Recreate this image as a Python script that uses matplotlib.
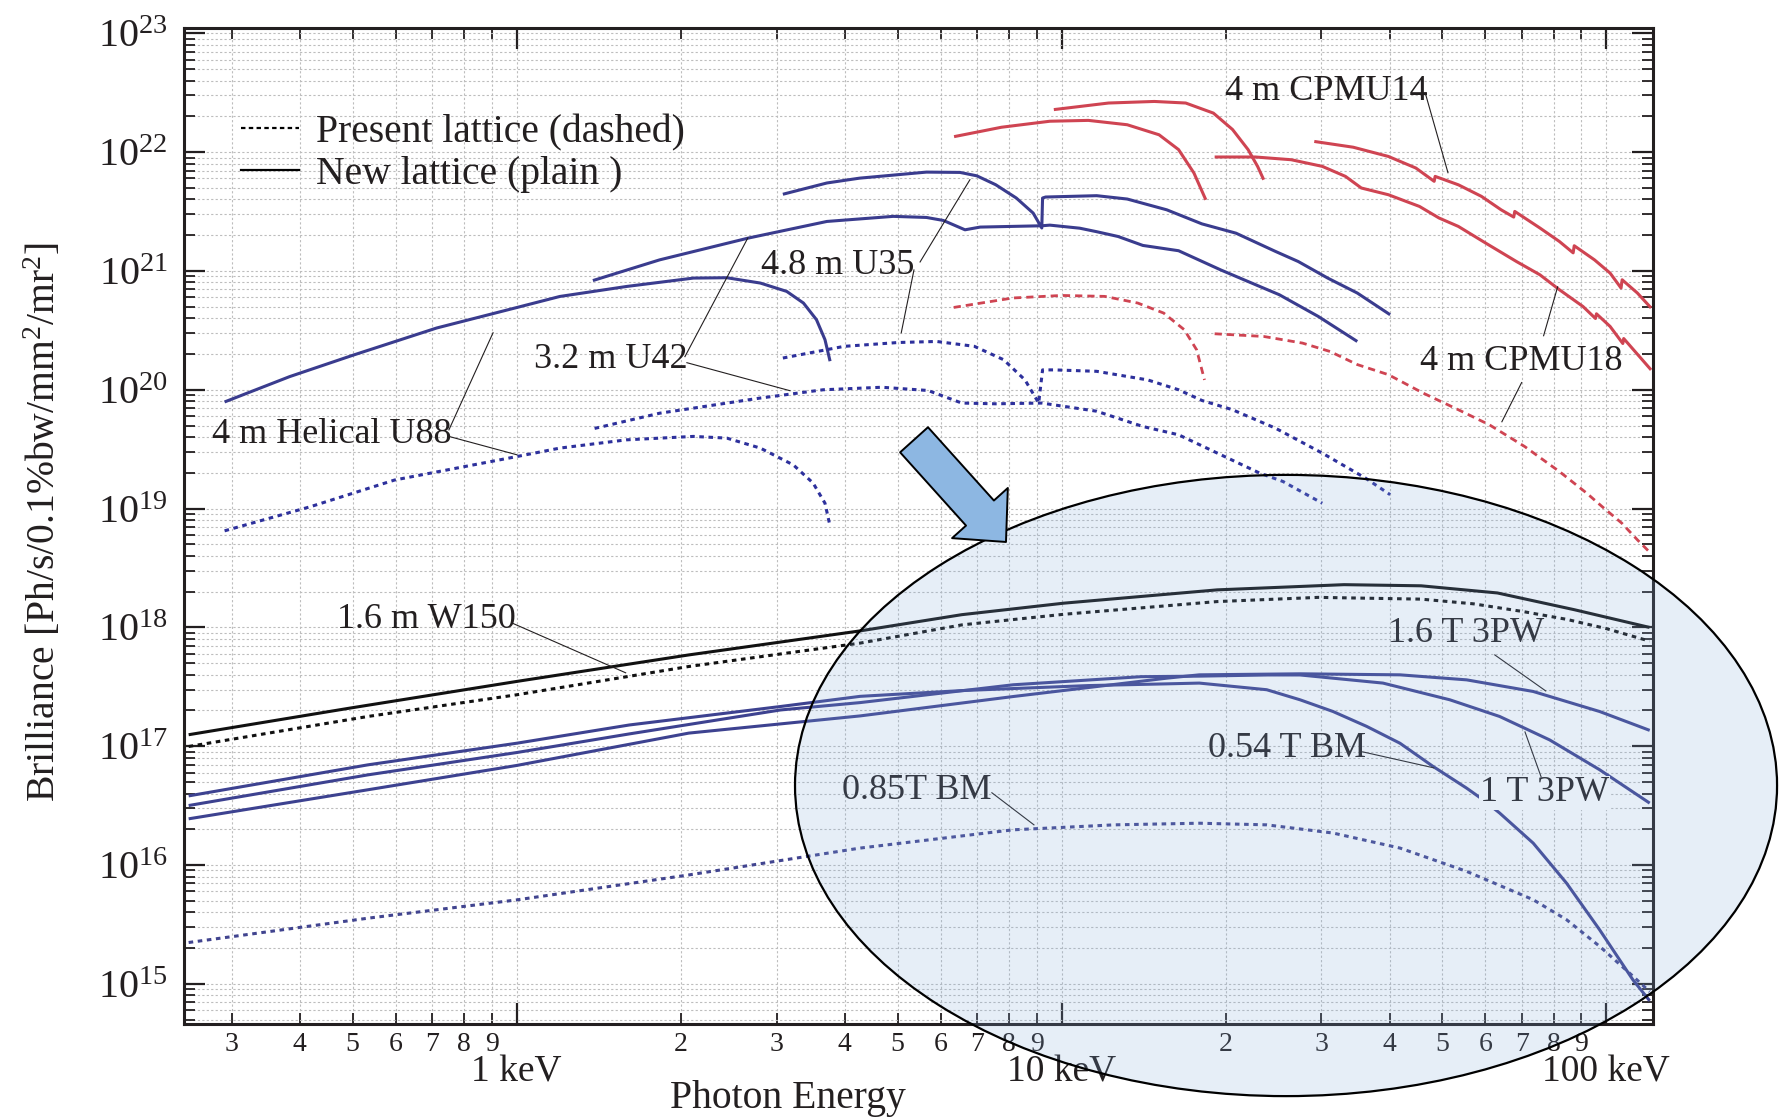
import matplotlib
matplotlib.use("Agg")
import math
import matplotlib.pyplot as plt
from matplotlib.patches import Ellipse
from matplotlib.lines import Line2D
from matplotlib.ticker import FixedLocator, FuncFormatter

plt.rcParams['font.family'] = ['Liberation Serif', 'DejaVu Serif']
plt.rcParams['mathtext.fontset'] = 'custom'
plt.rcParams['mathtext.rm'] = 'Liberation Serif'
plt.rcParams['mathtext.it'] = 'Liberation Serif:italic'
plt.rcParams['mathtext.bf'] = 'Liberation Serif:bold'

# photon energy [keV] and brilliance [Ph/s/0.1%bw/mm2/mr2]
u88_new_e = [0.291, 0.383, 0.500, 0.713, 1.00, 1.20, 1.59, 2.11, 2.43, 2.80, 3.13, 3.36, 3.55, 3.68, 3.76]
u88_new_b = [7.9e19, 1.29e20, 1.95e20, 3.31e20, 4.92e20, 6.10e20, 7.40e20, 8.71e20, 8.77e20,
             7.91e20, 6.73e20, 5.37e20, 3.89e20, 2.64e20, 1.74e20]
u88_old_e = [0.291, 0.419, 0.597, 1.00, 1.20, 1.59, 2.11, 2.43, 2.80, 3.22, 3.50, 3.68, 3.76]
u88_old_b = [6.5e18, 1.04e19, 1.74e19, 2.74e19, 3.23e19, 3.79e19, 4.05e19, 3.92e19, 3.23e19,
             2.33e19, 1.64e19, 1.11e19, 7.1e18]

u42_new_e = [1.38, 1.83, 2.66, 3.71, 4.91, 5.65, 6.07, 6.65, 7.09, 9.20, 9.52, 10.8, 11.6, 12.7,
             14.1, 16.4, 19.6, 23.1, 25.1, 29.6, 34.9]
u42_new_b = [8.3e20, 1.24e21, 1.89e21, 2.61e21, 2.88e21, 2.82e21, 2.66e21, 2.22e21, 2.34e21,
             2.40e21, 2.43e21, 2.29e21, 2.14e21, 1.95e21, 1.64e21, 1.48e21, 1.02e21, 7.41e20,
             6.31e20, 4.14e20, 2.55e20]
u42_old_e = [1.39, 1.83, 2.79, 3.65, 4.68, 5.69, 6.56, 7.57, 9.20, 11.6, 14.1, 16.4, 19.6, 23.1,
             25.5, 30.1]
u42_old_b = [4.73e19, 6.35e19, 8.5e19, 1.00e20, 1.05e20, 9.86e19, 7.73e19, 7.62e19, 7.73e19,
             6.6e19, 4.91e19, 4.18e19, 2.84e19, 1.99e19, 1.69e19, 1.11e19]

u35_new_e = [3.08, 3.71, 4.26, 5.65, 6.51, 6.99, 7.57, 8.26, 8.87, 9.20, 9.23, 9.35, 11.6, 13.2,
             15.6, 18.1, 20.9, 24.7, 27.2, 30.8, 34.9, 40.1]
u35_new_b = [4.42e21, 5.50e21, 6.04e21, 6.79e21, 6.75e21, 6.32e21, 5.32e21, 4.11e21, 3.07e21,
             2.30e21, 4.11e21, 4.19e21, 4.30e21, 4.03e21, 3.27e21, 2.49e21, 2.08e21, 1.46e21,
             1.20e21, 8.71e20, 6.52e20, 4.28e20]
u35_old_e = [3.08, 3.99, 5.02, 5.90, 6.92, 7.83, 8.57, 9.08, 9.23, 9.70, 11.6, 14.4, 16.4, 18.1,
             20.6, 24.7, 30.1, 36.1, 40.1]
u35_old_b = [1.85e20, 2.32e20, 2.50e20, 2.55e20, 2.32e20, 1.79e20, 1.21e20, 7.73e19, 1.47e20,
             1.47e20, 1.43e20, 1.21e20, 1.00e20, 8.13e19, 6.79e19, 4.75e19, 2.93e19, 1.81e19,
             1.31e19]

cpmu_h1_e = [9.68, 12.2, 14.8, 16.9, 19.0, 20.6, 22.0, 22.9, 23.5]
cpmu_h1_b = [2.28e22, 2.59e22, 2.67e22, 2.59e22, 2.13e22, 1.55e22, 1.05e22, 7.59e21, 5.86e21]
cpmu_h2_e = [6.35, 7.76, 9.52, 11.2, 13.2, 15.1, 16.4, 17.5, 18.4]
cpmu_h2_b = [1.35e22, 1.62e22, 1.82e22, 1.85e22, 1.70e22, 1.40e22, 1.05e22, 6.67e21, 3.97e21]
cpmu18_e = [19.1, 22.7, 26.4, 30.1, 33.2, 35.5, 39.8, 45.4, 49.3, 53.5, 60.0, 68.4, 75.5, 82.0,
            90.6, 95.5, 95.9, 101.6, 107.2, 107.6, 120.8]
cpmu18_b = [9.10e21, 9.10e21, 8.63e21, 7.59e21, 6.25e21, 4.99e21, 4.38e21, 3.49e21, 2.79e21,
            2.37e21, 1.72e21, 1.20e21, 9.29e20, 6.95e20, 5.02e20, 3.98e20, 4.36e20, 3.41e20,
            2.45e20, 2.70e20, 1.47e20]
cpmu14_e = [29.1, 34.3, 39.8, 44.7, 48.3, 48.5, 53.5, 59.0, 64.1, 67.6, 67.9, 75.5, 82.0, 86.9,
            87.3, 95.1, 101.6, 106.4, 106.9, 114.0, 120.8]
cpmu14_b = [1.23e22, 1.10e22, 9.20e21, 7.35e21, 5.68e21, 6.25e21, 5.31e21, 4.24e21, 3.27e21,
            2.84e21, 3.17e21, 2.30e21, 1.77e21, 1.42e21, 1.63e21, 1.24e21, 9.59e20, 7.18e20,
            8.43e20, 6.52e20, 4.88e20]
cpmu_old1_e = [6.34, 8.13, 10.0, 12.0, 13.8, 15.4, 16.8, 17.7, 18.3]
cpmu_old1_b = [4.93e20, 5.92e20, 6.22e20, 6.11e20, 5.37e20, 4.42e20, 3.20e20, 2.17e20, 1.21e20]
cpmu_old2_e = [19.1, 23.5, 27.7, 31.1, 34.9, 39.8, 46.1, 53.5, 61.0, 70.8, 82.0, 92.0, 98.2,
               106.7, 114.0, 119.7]
cpmu_old2_b = [2.96e20, 2.81e20, 2.47e20, 2.10e20, 1.63e20, 1.34e20, 9.38e19, 6.79e19, 5.07e19,
               3.33e19, 2.05e19, 1.35e19, 1.04e19, 7.55e18, 5.46e18, 4.36e18]

w150_new_e = [0.250, 0.493, 1.00, 2.07, 4.27, 6.56, 10.1, 19.3, 33.0, 45.7, 63.1, 87.3, 120]
w150_new_b = [1.25e17, 2.09e17, 3.51e17, 5.87e17, 9.35e17, 1.28e18, 1.60e18, 2.07e18, 2.29e18,
              2.24e18, 1.95e18, 1.41e18, 1.0e18]
w150_old_e = [0.250, 0.533, 1.00, 2.07, 4.27, 6.56, 10.1, 19.3, 29.6, 45.7, 57.0, 70.3, 84.5, 100, 120]
w150_old_b = [9.95e16, 1.78e17, 2.71e17, 4.69e17, 7.38e17, 1.05e18, 1.29e18, 1.65e18, 1.79e18,
              1.73e18, 1.58e18, 1.36e18, 1.17e18, 9.77e17, 7.67e17]

bm054_e = [0.250, 0.533, 1.00, 1.61, 3.05, 4.27, 6.56, 11.2, 15.6, 17.9, 23.8, 27.4, 31.5, 36.3,
           41.8, 48.1, 55.4, 59.4, 63.7, 73.4, 84.5, 97.2, 111.9, 120.1]
bm054_b = [3.82e16, 6.97e16, 1.06e17, 1.51e17, 2.16e17, 2.63e17, 2.94e17, 3.24e17, 3.35e17,
           3.40e17, 2.99e17, 2.46e17, 1.96e17, 1.47e17, 1.06e17, 6.75e16, 4.44e16, 3.54e16,
           2.74e16, 1.53e16, 7.05e15, 2.85e15, 1.08e15, 7.2e14]
pw1t_e = [0.250, 0.533, 1.00, 1.61, 3.05, 4.27, 8.15, 14.0, 17.9, 23.9, 27.4, 38.9, 51.6, 63.7,
          78.7, 97.2, 120.1]
pw1t_b = [3.17e16, 5.74e16, 8.85e16, 1.27e17, 2.02e17, 2.33e17, 3.29e17, 3.85e17, 3.89e17,
          3.98e17, 3.98e17, 3.40e17, 2.46e17, 1.78e17, 1.13e17, 6.34e16, 3.32e16]
pw16t_e = [0.250, 0.533, 1.00, 2.07, 4.27, 8.15, 15.6, 17.9, 27.4, 41.8, 55.4, 73.4, 97.2, 120.1]
pw16t_b = [2.45e16, 4.30e16, 6.89e16, 1.29e17, 1.80e17, 2.62e17, 3.74e17, 3.99e17, 4.07e17,
           3.99e17, 3.62e17, 2.89e17, 1.96e17, 1.36e17]
bm085_e = [0.250, 0.533, 1.00, 2.07, 4.27, 8.15, 12.5, 17.9, 23.8, 31.5, 41.8, 55.4, 73.4, 84.5,
           97.2, 111.9, 120.1]
bm085_b = [2.23e15, 3.57e15, 5.09e15, 8.26e15, 1.39e16, 1.98e16, 2.18e16, 2.25e16, 2.18e16,
           1.86e16, 1.39e16, 8.85e15, 5.11e15, 3.47e15, 2.07e15, 1.16e15, 8.6e14]

# label text, text position (keV, brilliance), leader lines [(e0, b0, e1, b1), ...]
labels = [
    ("4 m Helical U88", 0.457, 4.18e19, [(0.751, 4.60e19, 0.905, 3.02e20), (0.751, 4.05e19, 1.0, 2.84e19)]),
    ("3.2 m U42", 1.489, 1.79e20, [(2.036, 1.90e20, 2.657, 1.90e21), (2.053, 1.69e20, 3.174, 9.82e19)]),
    ("4.8 m U35", 3.888, 1.11e21, [(5.50, 1.19e21, 6.79, 5.86e21), (5.36, 1.02e21, 5.08, 3.02e20)]),
    ("4 m CPMU14", 30.6, 3.22e22, [(46.5, 3.16e22, 51.2, 6.71e21)]),
    ("4 m CPMU18", 69.9, 1.72e20, [(76.7, 2.85e20, 81.4, 7.36e20), (69.9, 1.15e20, 64.3, 5.38e19)]),
    ("1.6 m W150", 0.684, 1.16e18, [(0.980, 1.09e18, 1.585, 4.15e17)]),
    ("1.6 T 3PW", 55.4, 8.83e17, [(62.4, 5.87e17, 77.4, 2.92e17)]),
    ("0.54 T BM", 25.9, 9.51e16, [(35.7, 8.97e16, 48.2, 6.58e16)]),
    ("1 T 3PW", 77.1, 4.06e16, [(75.9, 5.52e16, 70.9, 1.32e17)]),
    ("0.85T BM", 5.43, 4.22e16, [(7.45, 4.06e16, 8.90, 2.18e16)]),
]

x_major = [1, 10, 100]
x_major_labels = ["1 keV", "10 keV", "100 keV"]
y_major = [1e15, 1e16, 1e17, 1e18, 1e19, 1e20, 1e21, 1e22, 1e23]

blue = '#3a3c8e'
blue_d = '#2d309c'
red = '#cf4452'
ink = '#231f20'

fig = plt.figure(figsize=(17.89, 11.17), dpi=100)
ax = fig.add_axes([0.1031, 0.0833, 0.8209, 0.8917])
ax.set_xscale('log')
ax.set_yscale('log')
ax.set_xlim(0.2456, 121.8)
ax.set_ylim(4.6e14, 1.11e23)

solid = dict(lw=2.2, solid_capstyle='butt', solid_joinstyle='round', zorder=3)
dash = dict(lw=2.2, linestyle=(0, (1.5, 1.5)), zorder=3)
rdash = dict(lw=2.0, linestyle=(0, (2.6, 1.8)), zorder=3)

ax.plot(u88_new_e, u88_new_b, color=blue, **solid)
ax.plot(u88_old_e, u88_old_b, color=blue_d, **dash)
ax.plot(u42_new_e, u42_new_b, color=blue, **solid)
ax.plot(u42_old_e, u42_old_b, color=blue_d, **dash)
ax.plot(u35_new_e, u35_new_b, color=blue, **solid)
ax.plot(u35_old_e, u35_old_b, color=blue_d, **dash)

ax.plot(cpmu_h1_e, cpmu_h1_b, color=red, **solid)
ax.plot(cpmu_h2_e, cpmu_h2_b, color=red, **solid)
ax.plot(cpmu18_e, cpmu18_b, color=red, **solid)
ax.plot(cpmu14_e, cpmu14_b, color=red, **solid)
ax.plot(cpmu_old1_e, cpmu_old1_b, color=red, **rdash)
ax.plot(cpmu_old2_e, cpmu_old2_b, color=red, **rdash)

ax.plot(w150_new_e, w150_new_b, color='#111111', **solid)
ax.plot(w150_old_e, w150_old_b, color='#111111', **dash)
ax.plot(bm054_e, bm054_b, color='#3d4290', **solid)
ax.plot(pw1t_e, pw1t_b, color='#3d4290', **solid)
ax.plot(pw16t_e, pw16t_b, color='#3d4290', **solid)
ax.plot(bm085_e, bm085_b, color='#41448f', **dash)

for txt, tx, ty, leaders in labels:
    t = ax.text(tx, ty, txt, fontsize=26, color=ink, ha='center', va='center', zorder=4)
    if txt == "1 T 3PW":
        # the label interrupts the 0.54 T BM curve
        t.set_bbox(dict(facecolor='white', edgecolor='none', pad=0.5))
    for e0, b0, e1, b1 in leaders:
        ax.plot([e0, e1], [b0, b1], color=ink, lw=0.8, zorder=4)

# legend
handles = [Line2D([], [], color='black', lw=1.6, linestyle=(0, (2, 1.5))),
           Line2D([], [], color='black', lw=1.6)]
ax.legend(handles, ["Present lattice (dashed)", "New lattice (plain )"],
          loc='upper left', bbox_to_anchor=(0.0385, 0.9135), frameon=False, fontsize=28.5,
          borderpad=0, borderaxespad=0, handlelength=1.47, handletextpad=0.43,
          labelspacing=0.12, labelcolor=ink)

# axes, ticks, grid
ax.xaxis.set_major_locator(FixedLocator(x_major))
ax.xaxis.set_major_formatter(FuncFormatter(lambda v, p: x_major_labels[x_major.index(round(v))]))
x_minor = [m * 10.0 ** k for k in (-1, 0, 1) for m in range(2, 10)]
ax.xaxis.set_minor_locator(FixedLocator(x_minor))
ax.xaxis.set_minor_formatter(FuncFormatter(lambda v, p: "%d" % round(v / 10 ** math.floor(math.log10(v) + 1e-9))))
ax.yaxis.set_major_locator(FixedLocator(y_major))
ax.yaxis.set_major_formatter(FuncFormatter(lambda v, p: r"$10^{%d}$" % round(math.log10(v))))
y_minor = [m * 10.0 ** k for k in range(14, 23) for m in range(2, 10)]
ax.yaxis.set_minor_locator(FixedLocator(y_minor))
ax.yaxis.set_minor_formatter(FuncFormatter(lambda v, p: ""))

ax.tick_params(which='both', direction='in', top=True, right=True, colors=ink)
ax.tick_params(which='major', length=15, width=1.6)
ax.tick_params(which='minor', length=8, width=1.3)
ax.tick_params(axis='y', which='major', labelsize=29, pad=12)
ax.tick_params(axis='x', which='major', labelsize=27, pad=22.5)
ax.tick_params(axis='x', which='minor', labelsize=20, pad=6)
for s in ax.spines.values():
    s.set_linewidth(2.2)
    s.set_color(ink)
ax.grid(True, which='both', color='#bdbdbd', linestyle=(0, (2, 2)), lw=0.8, zorder=0)
ax.set_axisbelow(True)

ax.set_ylabel(r"Brilliance [Ph/s/0.1%bw/mm$^2$/mr$^2$]", fontsize=28.5, color=ink)
ax.yaxis.set_label_coords(-0.082, 0.504)
ax.set_xlabel("Photon Energy", fontsize=28.5, color=ink)
ax.xaxis.set_label_coords(0.411, -0.056)

# highlight ellipse and arrow
ell = Ellipse((0.7501, 0.2394), 0.6687, 0.6237, transform=ax.transAxes,
              facecolor=(130 / 255, 171 / 255, 219 / 255, 0.2), edgecolor='black',
              lw=1.6, clip_on=False, zorder=10)
ax.add_patch(ell)
ax.annotate('', xy=(0.5594, 0.4839), xytext=(0.4968, 0.5865), xycoords='axes fraction',
            arrowprops=dict(arrowstyle='simple,head_length=2.8,head_width=5.4,tail_width=2.7',
                            mutation_scale=10, fc='#8db7e2', ec='black', lw=1.4,
                            shrinkA=0, shrinkB=0), zorder=11)

fig.savefig('out.png', dpi=100)
